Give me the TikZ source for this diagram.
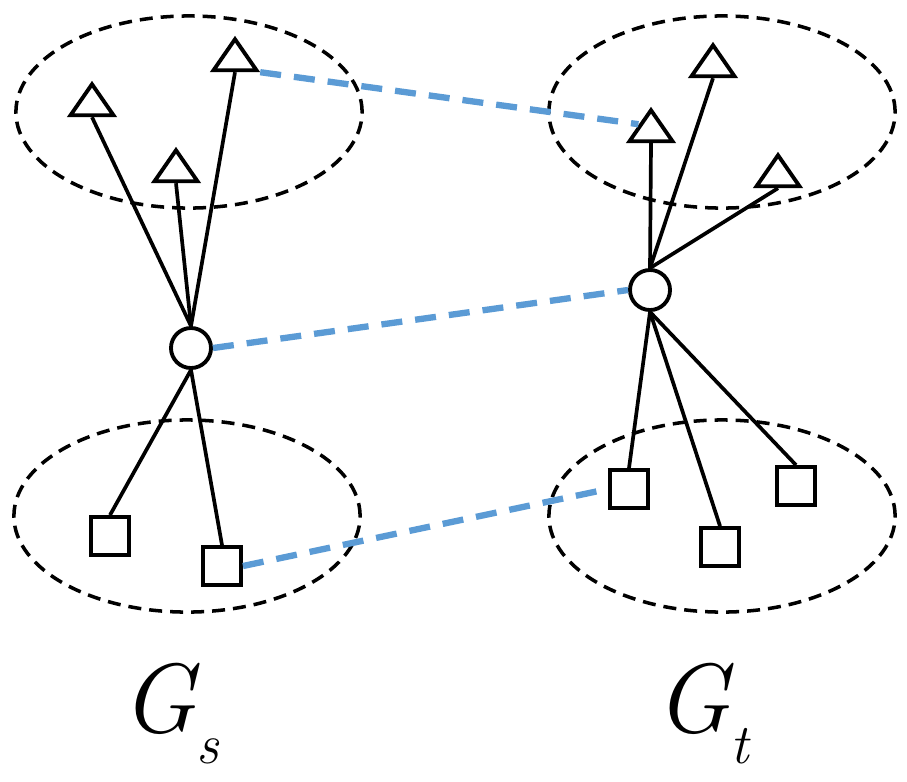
\documentclass[tikz,border=0pt]{standalone}
\usepackage{xcolor}
\usetikzlibrary{shapes.geometric}
\definecolor{MatchBlue}{HTML}{5B9BD5}

\tikzset{
  vert/.style={draw, line width=1.1pt, fill=white, inner sep=0pt},
  tri/.style={vert, isosceles triangle, isosceles triangle stretches,
              shape border rotate=90, minimum width=0.43cm, minimum height=0.31cm},
  hub/.style={vert, circle, minimum size=0.4cm},
  leaf/.style={vert, rectangle, minimum size=0.38cm},
  group/.style={draw, ellipse, dash pattern=on 0.13cm off 0.08cm, line width=1pt,
                minimum width=3.46cm, minimum height=1.92cm},
  edge/.style={line width=1.05pt},
  match/.style={MatchBlue, line width=1.8pt, dash pattern=on 0.21cm off 0.13cm},
  glabel/.style={anchor=base west, inner sep=0pt, font=\fontsize{28}{32}\selectfont\itshape}
}
\newcommand{\graphname}[1]{G\raisebox{-0.31cm}{\fontsize{16}{18}\selectfont #1}}

\begin{document}
\begin{tikzpicture}[x=0.01cm, y=-0.01cm]
        \useasboundingbox (0,0) rectangle (907,781);
        % groups
        \node[group] (sUp) at (189,112) {};
        \node[group] (sDown) at (187,516) {};
        \node[group] (tUp) at (722,112) {};
        \node[group] (tDown) at (722,516) {};
        % source graph
        \node[hub] (sHub) at (191,348) {};
        \node[tri] (sA) at (92,104) {};
        \node[tri] (sB) at (176,170) {};
        \node[tri] (sC) at (235,59) {};
        \node[leaf] (sP) at (110,536) {};
        \node[leaf] (sQ) at (222,566) {};
        % target graph
        \node[hub] (tHub) at (650,290) {};
        \node[tri] (tA) at (651,130) {};
        \node[tri] (tB) at (713,65) {};
        \node[tri] (tC) at (778,175) {};
        \node[leaf] (tP) at (629,489) {};
        \node[leaf] (tQ) at (720,547) {};
        \node[leaf] (tR) at (796,486) {};
        \foreach \t in {sA,sB,sC} \draw[edge] (sHub.north) -- (\t.lower side);
        \foreach \t in {tA,tB,tC} \draw[edge] (tHub.north) -- (\t.lower side);
        \foreach \b in {sP,sQ} \draw[edge] (sHub.south) -- (\b.north);
        \foreach \b in {tP,tQ,tR} \draw[edge] (tHub.south) -- (\b.north);
        % matches
        \draw[match] (sC.right corner) -- (tA.left side);
        \draw[match] (sHub.east) -- (tHub.west);
        \draw[match] (sQ.east) -- (tP.west);
        % labels
        \node[glabel] (gs) at (121,732) {\graphname{s}};
        \node[glabel] (gt) at (655,732) {\graphname{t}};
      \end{tikzpicture}
\end{document}
